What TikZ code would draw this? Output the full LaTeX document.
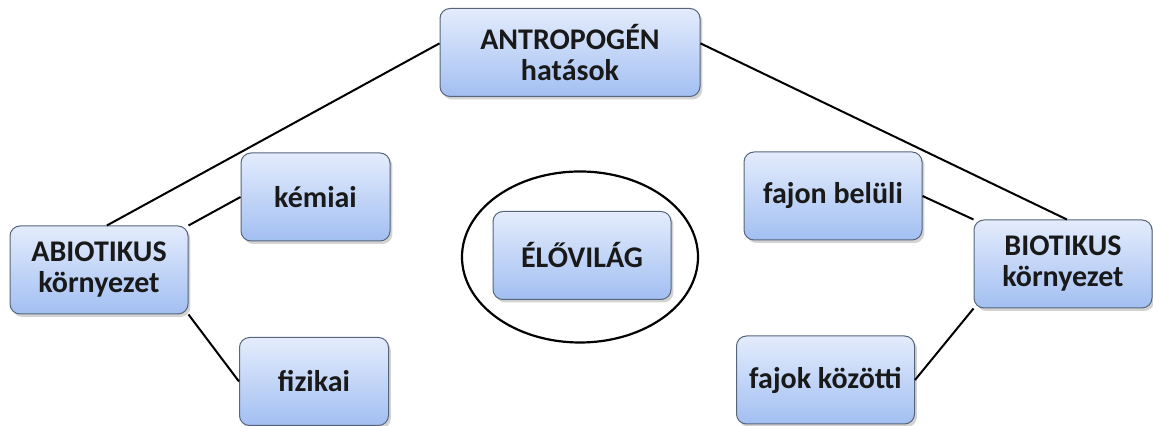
\documentclass[tikz,border=0pt]{standalone}
\usepackage{fontspec}
\setmainfont{Carlito}
\usetikzlibrary{shadows}
\definecolor{boxtop}{HTML}{E4ECFC}
\definecolor{boxbot}{HTML}{A2BFF2}
\definecolor{boxline}{HTML}{56657A}
\tikzset{
  hbox/.style={rectangle, rounded corners=5pt, draw=boxline, line width=0.5pt,
    top color=boxtop, bottom color=boxbot, minimum width=89pt, minimum height=44pt,
    inner sep=1pt, align=center, font=\fontsize{15}{15.5}\selectfont\bfseries,
    text=black!90, drop shadow={shadow xshift=1.2pt, shadow yshift=-1.5pt, opacity=0.35}},
  smallbox/.style={hbox, minimum width=74.5pt},
  link/.style={draw=black, line width=1pt}
}
\begin{document}
\begin{tikzpicture}[x=0.5pt, y=-0.5pt]
                    \useasboundingbox (0,0) rectangle (1153,426);
                    % top level
                    \node[hbox, minimum width=130pt] (antr) at (570,52.5) {ANTROPOGÉN\\hatások};
                    % left side
                    \node[hbox] (abio) at (99,270) {ABIOTIKUS\\környezet};
                    \node[smallbox] (kem) at (315.5,197) {kémiai};
                    \node[smallbox] (fiz) at (314,381.5) {fizikai};
                    % right side
                    \node[hbox] (fajb) at (833,196) {fajon belüli};
                    \node[hbox] (bio) at (1063,264) {BIOTIKUS\\környezet};
                    \node[hbox] (fajk) at (825.5,380) {fajok közötti};
                    % middle
                    \node[hbox] (elo) at (582,255.5) {ÉLŐVILÁG};
                    \draw[line width=1.1pt] (580,257) ellipse [x radius=59pt, y radius=42.75pt];
                    % connectors
                    \draw[link] (antr.176) -- (abio.80);
                    \draw[link] (antr.4) -- (bio.85);
                    \draw[link] (abio.north east) -- (kem.west);
                    \draw[link] (abio.south east) -- (fiz.west);
                    \draw[link] (fajb.east) -- (bio.north west);
                    \draw[link] (fajk.east) -- (bio.south west);
                \end{tikzpicture}
\end{document}
